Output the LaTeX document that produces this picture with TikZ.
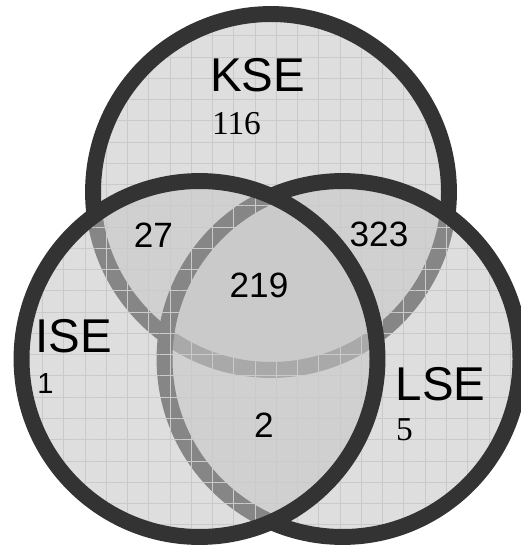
\documentclass[tikz,border=0pt]{standalone}
\usepackage{fontspec}
\setmainfont{Liberation Serif}
\newfontfamily\arialfont{Liberation Sans}
\usepackage{xcolor}
\usepackage{tikz}
\usetikzlibrary{patterns.meta}

\definecolor{vennline}{HTML}{333333}
\definecolor{vennfill}{HTML}{C5C5C5}
\definecolor{venngrid}{HTML}{CACACA}

\tikzset{
  setfill/.style={fill=vennfill,fill opacity=.57},
  setgrid/.style={pattern={Hatch[angle=0,distance=12.1pt,line width=.5pt]},pattern color=venngrid,fill opacity=.57},
  setline/.style={draw=vennline,line width=9.07pt},
  setname/.style={font=\arialfont\fontsize{27}{27}\selectfont,inner sep=0pt,anchor=base},
  setcount/.style={font=\arialfont\fontsize{20}{20}\selectfont,inner sep=0pt,anchor=base},
  smallcount/.style={font=\arialfont\fontsize{16.5}{16.5}\selectfont,inner sep=0pt,anchor=base west},
  onlycount/.style={font=\fontsize{19}{19}\selectfont,inner sep=0pt,anchor=base}
}

\begin{document}
\begin{tikzpicture}[x=0.02cm,y=0.02cm]
\useasboundingbox (0,0) rectangle (520,-546);
% centres of the three sets
\coordinate (kse) at (271,-192);
\coordinate (lse) at (342.5,-359);
\coordinate (ise) at (199.5,-359);
% KSE, then LSE, then ISE on top
\foreach \c in {kse,lse,ise}{
  \fill[setfill] (\c) circle (3.56cm);
  \fill[setgrid] (\c) circle (3.56cm);
  \draw[setline] (\c) circle (3.56cm);
}
% set names
\node[setname] (kname) at (257.5,-92) {KSE};
\node[setname] (iname) at (74,-352) {ISE};
\node[setname] (lname) at (440.5,-400) {LSE};
% counts
\node[onlycount] (konly) at (236.5,-135) {116};
\node[smallcount] (ionly) at (37,-393) {1};
\node[onlycount] (lonly) at (404.5,-440) {5};
\node[setcount] (ki) at (153.5,-248) {27};
\node[setcount] (kl) at (379,-247) {323};
\node[setcount] (kil) at (259,-297) {219};
\node[setcount] (il) at (264,-437) {2};
\end{tikzpicture}
\end{document}
